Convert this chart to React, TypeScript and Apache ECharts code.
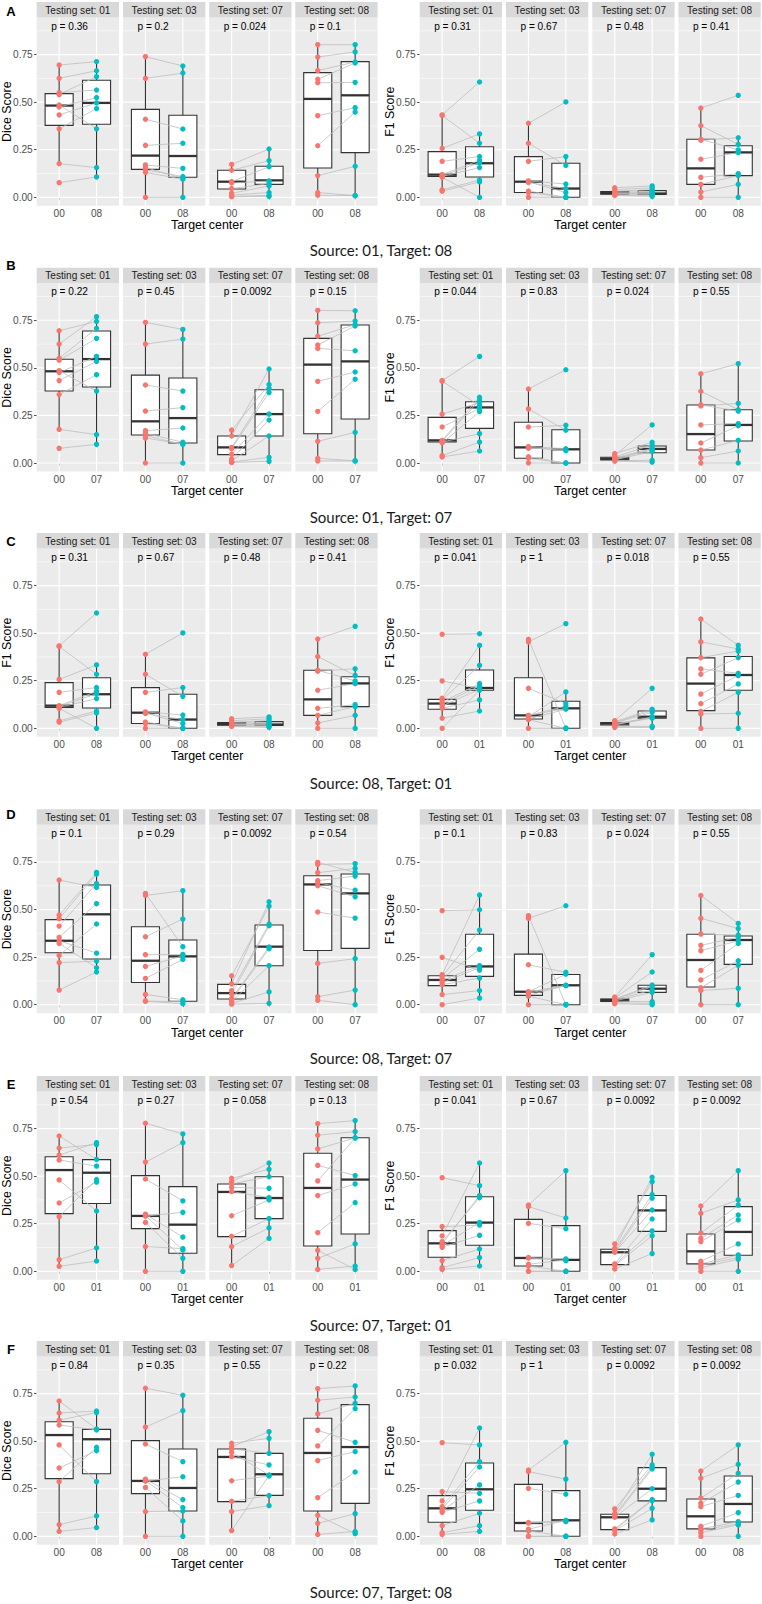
import React, { useEffect, useRef } from "react";
import * as echarts from "echarts";

// ---------------- data ----------------
const testingSets = ["01", "03", "07", "08"];
const yMajorTicks = [0, 0.25, 0.5, 0.75];
const yMinorTicks = [0.125, 0.375, 0.625, 0.875];
const Y_MIN = -0.045;
const Y_MAX = 0.945;

// Dice, source 01: baseline (00) per testing set, paired by index with targets
const diceSrc01Base = [
  [0.695, 0.625, 0.55, 0.54, 0.485, 0.475, 0.433, 0.36, 0.177, 0.077],
  [0.739, 0.625, 0.41, 0.273, 0.17, 0.156, 0.144, 0.131, 0.0],
  [0.173, 0.142, 0.082, 0.075, 0.046, 0.021, 0.012, 0.005, 0.003],
  [0.802, 0.737, 0.666, 0.62, 0.602, 0.429, 0.271, 0.114, 0.025, 0.011],
];
const diceSrc01BaseBox = [[0.378, 0.482, 0.545], [0.147, 0.219, 0.462], [0.044, 0.082, 0.142], [0.154, 0.517, 0.655]];
const diceSrc01To08 = [
  [0.713, 0.665, 0.564, 0.634, 0.36, 0.524, 0.496, 0.466, 0.156, 0.107],
  [0.69, 0.653, 0.359, 0.284, 0.152, 0.1, 0.109, 0.095, 0.0],
  [0.254, 0.193, 0.161, 0.086, 0.072, 0.06, 0.025, 0.01, 0.005],
  [0.802, 0.764, 0.711, 0.706, 0.604, 0.471, 0.448, 0.163, 0.009, 0.009],
];
const diceSrc01To08Box = [[0.384, 0.496, 0.615], [0.105, 0.217, 0.431], [0.068, 0.089, 0.163], [0.235, 0.536, 0.713]];
const diceSrc01To07 = [
  [0.744, 0.769, 0.708, 0.655, 0.378, 0.56, 0.534, 0.464, 0.149, 0.098],
  [0.702, 0.651, 0.378, 0.291, 0.184, 0.109, 0.098, 0.1, 0.0],
  [0.412, 0.494, 0.391, 0.37, 0.257, 0.226, 0.142, 0.03, 0.009],
  [0.8, 0.746, 0.727, 0.72, 0.59, 0.478, 0.44, 0.161, 0.011, 0.011],
];
const diceSrc01To07Box = [[0.399, 0.546, 0.694], [0.105, 0.236, 0.447], [0.142, 0.257, 0.385], [0.231, 0.534, 0.725]];

// F1, source 01
const f1Src01Base = [
  [0.433, 0.43, 0.257, 0.189, 0.119, 0.114, 0.11, 0.105, 0.039, 0.032],
  [0.389, 0.284, 0.189, 0.086, 0.081, 0.078, 0.033, 0.025, 0.0],
  [0.05, 0.04, 0.032, 0.027, 0.022, 0.02, 0.017, 0.012, 0.01],
  [0.469, 0.377, 0.305, 0.3, 0.2, 0.105, 0.068, 0.028, 0.0],
];
const f1Src01BaseBox = [[0.11, 0.119, 0.24], [0.025, 0.082, 0.214], [0.016, 0.022, 0.03], [0.068, 0.152, 0.305]];
const f1Src01To08 = [
  [0.606, 0.284, 0.333, 0.214, 0.194, 0.182, 0.156, 0.0, 0.091, 0.081],
  [0.501, 0.168, 0.214, 0.07, 0.025, 0.046, 0.0, 0.0, 0.0],
  [0.06, 0.05, 0.04, 0.03, 0.025, 0.02, 0.015, 0.01, 0.005],
  [0.536, 0.278, 0.249, 0.313, 0.235, 0.124, 0.114, 0.068, 0.0],
];
const f1Src01To08Box = [[0.107, 0.179, 0.266], [0.0, 0.046, 0.179], [0.015, 0.02, 0.035], [0.114, 0.236, 0.271]];
const f1Src01To07 = [
  [0.56, 0.301, 0.317, 0.287, 0.345, 0.331, 0.154, 0.27, 0.11, 0.063],
  [0.49, 0.172, 0.198, 0.075, 0.065, 0.072, 0.0, 0.0, 0.0],
  [0.109, 0.2, 0.095, 0.077, 0.068, 0.074, 0.06, 0.014, 0.005],
  [0.522, 0.28, 0.273, 0.313, 0.207, 0.196, 0.119, 0.063, 0.0],
];
const f1Src01To07Box = [[0.182, 0.292, 0.322], [0.0, 0.072, 0.175], [0.054, 0.074, 0.089], [0.116, 0.2, 0.28]];

// F1, source 08
const f1Src08Base = [
  [0.494, 0.249, 0.158, 0.149, 0.137, 0.128, 0.117, 0.105, 0.053, 0.0],
  [0.468, 0.454, 0.21, 0.068, 0.067, 0.06, 0.05, 0.045, 0.0],
  [0.04, 0.035, 0.03, 0.028, 0.025, 0.02, 0.018, 0.01, 0.005],
  [0.574, 0.454, 0.371, 0.312, 0.284, 0.18, 0.13, 0.089, 0.075, 0.0],
];
const f1Src08BaseBox = [[0.1, 0.13, 0.152], [0.049, 0.068, 0.266], [0.017, 0.025, 0.03], [0.093, 0.235, 0.37]];
const f1Src08To01 = [
  [0.497, 0.21, 0.436, 0.331, 0.235, 0.222, 0.205, 0.149, 0.091, 0.201],
  [0.0, 0.55, 0.13, 0.117, 0.105, 0.191, 0.1, 0.0, 0.0],
  [0.21, 0.1, 0.093, 0.084, 0.056, 0.053, 0.06, 0.01, 0.005],
  [0.436, 0.417, 0.406, 0.289, 0.371, 0.277, 0.233, 0.189, 0.079, 0.0],
];
const f1Src08To01Box = [[0.2, 0.212, 0.306], [0.0, 0.105, 0.142], [0.053, 0.061, 0.091], [0.2, 0.28, 0.377]];
const f1Src08To07 = [
  [0.499, 0.182, 0.576, 0.392, 0.291, 0.205, 0.194, 0.14, 0.074, 0.035],
  [0.0, 0.52, 0.17, 0.16, 0.102, 0.102, 0.1, 0.0, 0.0],
  [0.263, 0.172, 0.103, 0.095, 0.077, 0.065, 0.016, 0.007, 0.0],
  [0.427, 0.4, 0.366, 0.354, 0.336, 0.322, 0.231, 0.207, 0.086, 0.0],
];
const f1Src08To07Box = [[0.149, 0.201, 0.37], [0.0, 0.102, 0.159], [0.065, 0.084, 0.102], [0.212, 0.34, 0.361]];

// Dice, source 08
const diceSrc08Base = [
  [0.655, 0.471, 0.452, 0.413, 0.354, 0.336, 0.322, 0.259, 0.221, 0.077],
  [0.585, 0.574, 0.357, 0.263, 0.201, 0.138, 0.054, 0.019, 0.019],
  [0.152, 0.109, 0.074, 0.056, 0.033, 0.025, 0.016, 0.007, 0.003],
  [0.748, 0.737, 0.694, 0.652, 0.641, 0.625, 0.487, 0.217, 0.042, 0.023],
];
const diceSrc08BaseBox = [[0.273, 0.336, 0.447], [0.117, 0.231, 0.41], [0.03, 0.061, 0.107], [0.285, 0.632, 0.678]];
const diceSrc08To07 = [
  [0.616, 0.695, 0.686, 0.637, 0.531, 0.271, 0.194, 0.424, 0.229, 0.172],
  [0.305, 0.599, 0.45, 0.264, 0.257, 0.238, 0.026, 0.016, 0.005],
  [0.518, 0.541, 0.424, 0.415, 0.303, 0.294, 0.205, 0.067, 0.007],
  [0.695, 0.741, 0.716, 0.676, 0.602, 0.567, 0.455, 0.242, 0.077, 0.0],
];
const diceSrc08To07Box = [[0.24, 0.475, 0.629], [0.018, 0.254, 0.34], [0.205, 0.305, 0.419], [0.296, 0.585, 0.687]];

// Dice, source 07
const diceSrc07Base = [
  [0.711, 0.648, 0.611, 0.585, 0.48, 0.359, 0.287, 0.061, 0.026],
  [0.778, 0.574, 0.485, 0.3, 0.292, 0.29, 0.257, 0.13, 0.0],
  [0.489, 0.471, 0.459, 0.441, 0.419, 0.292, 0.184, 0.13, 0.03],
  [0.776, 0.715, 0.643, 0.557, 0.475, 0.398, 0.203, 0.11, 0.068, 0.01],
];
const diceSrc07BaseBox = [[0.303, 0.532, 0.602], [0.224, 0.291, 0.503], [0.182, 0.417, 0.459], [0.133, 0.438, 0.62]];
const diceSrc07To01 = [
  [0.588, 0.666, 0.676, 0.553, 0.317, 0.469, 0.482, 0.123, 0.054],
  [0.722, 0.676, 0.37, 0.18, 0.112, 0.31, 0.068, 0.119, 0.0],
  [0.536, 0.569, 0.497, 0.436, 0.387, 0.375, 0.277, 0.228, 0.173],
  [0.792, 0.734, 0.701, 0.503, 0.701, 0.459, 0.361, 0.01, 0.144, 0.028],
];
const diceSrc07To01Box = [[0.356, 0.518, 0.587], [0.095, 0.245, 0.445], [0.277, 0.385, 0.497], [0.196, 0.482, 0.702]];
const diceSrc07To08 = [
  [0.564, 0.658, 0.65, 0.559, 0.287, 0.45, 0.468, 0.107, 0.046],
  [0.741, 0.66, 0.392, 0.193, 0.151, 0.313, 0.081, 0.133, 0.0],
  [0.515, 0.55, 0.436, 0.322, 0.375, 0.317, 0.214, 0.161, 0.32],
  [0.79, 0.732, 0.699, 0.494, 0.671, 0.445, 0.338, 0.014, 0.119, 0.025],
];
const diceSrc07To08Box = [[0.329, 0.51, 0.562], [0.133, 0.254, 0.459], [0.215, 0.326, 0.436], [0.173, 0.469, 0.692]];

// F1, source 07
const f1Src07Base = [
  [0.492, 0.235, 0.186, 0.156, 0.145, 0.135, 0.126, 0.056, 0.019, 0.01],
  [0.348, 0.34, 0.252, 0.072, 0.07, 0.037, 0.028, 0.0, 0.0],
  [0.144, 0.121, 0.112, 0.103, 0.1, 0.039, 0.035, 0.03, 0.012],
  [0.343, 0.305, 0.201, 0.173, 0.156, 0.053, 0.039, 0.033, 0.019, 0.0],
];
const f1Src07BaseBox = [[0.074, 0.147, 0.214], [0.028, 0.07, 0.273], [0.035, 0.1, 0.116], [0.039, 0.105, 0.196]];
const f1Src07To01 = [
  [0.45, 0.243, 0.569, 0.387, 0.398, 0.257, 0.189, 0.117, 0.072, 0.028],
  [0.529, 0.28, 0.224, 0.065, 0.056, 0.06, 0.0, 0.0, 0.0],
  [0.471, 0.494, 0.403, 0.384, 0.322, 0.275, 0.212, 0.187, 0.093],
  [0.529, 0.375, 0.348, 0.296, 0.27, 0.144, 0.086, 0.072, 0.063, 0.0],
];
const f1Src07To01Box = [[0.137, 0.256, 0.392], [0.0, 0.06, 0.24], [0.21, 0.32, 0.398], [0.084, 0.207, 0.34]];
const f1Src07To08 = [
  [0.48, 0.226, 0.569, 0.392, 0.364, 0.27, 0.186, 0.121, 0.056, 0.026],
  [0.494, 0.3, 0.221, 0.082, 0.077, 0.084, 0.0, 0.0, 0.0],
  [0.375, 0.431, 0.363, 0.354, 0.25, 0.193, 0.187, 0.147, 0.086],
  [0.48, 0.378, 0.331, 0.285, 0.215, 0.124, 0.077, 0.065, 0.06, 0.0],
];
const f1Src07To08Box = [[0.137, 0.247, 0.385], [0.0, 0.084, 0.24], [0.186, 0.25, 0.361], [0.075, 0.17, 0.317]];

// p-values (per testing set)
const pDiceSrc01To08 = ["0.36", "0.2", "0.024", "0.1"];
const pF1Src01To08 = ["0.31", "0.67", "0.48", "0.41"];
const pDiceSrc01To07 = ["0.22", "0.45", "0.0092", "0.15"];
const pF1Src01To07 = ["0.044", "0.83", "0.024", "0.55"];
const pF1Src08To01 = ["0.041", "1", "0.018", "0.55"];
const pDiceSrc08To07 = ["0.1", "0.29", "0.0092", "0.54"];
const pF1Src08To07 = ["0.1", "0.83", "0.024", "0.55"];
const pDiceSrc07To01 = ["0.54", "0.27", "0.058", "0.13"];
const pF1Src07To01 = ["0.041", "0.67", "0.0092", "0.0092"];
const pDiceSrc07To08 = ["0.84", "0.35", "0.55", "0.22"];
const pF1Src07To08 = ["0.032", "1", "0.0092", "0.0092"];

const rows = [
  { letter: "A", title: "Source: 01, Target: 08", panels: [
    { yTitle: "Dice Score", tgtLabel: "08", base: diceSrc01Base, baseBox: diceSrc01BaseBox, tgt: diceSrc01To08, tgtBox: diceSrc01To08Box, p: pDiceSrc01To08 },
    { yTitle: "F1 Score", tgtLabel: "08", base: f1Src01Base, baseBox: f1Src01BaseBox, tgt: f1Src01To08, tgtBox: f1Src01To08Box, p: pF1Src01To08 },
  ] },
  { letter: "B", title: "Source: 01, Target: 07", panels: [
    { yTitle: "Dice Score", tgtLabel: "07", base: diceSrc01Base, baseBox: diceSrc01BaseBox, tgt: diceSrc01To07, tgtBox: diceSrc01To07Box, p: pDiceSrc01To07 },
    { yTitle: "F1 Score", tgtLabel: "07", base: f1Src01Base, baseBox: f1Src01BaseBox, tgt: f1Src01To07, tgtBox: f1Src01To07Box, p: pF1Src01To07 },
  ] },
  { letter: "C", title: "Source: 08, Target: 01", panels: [
    { yTitle: "F1 Score", tgtLabel: "08", base: f1Src01Base, baseBox: f1Src01BaseBox, tgt: f1Src01To08, tgtBox: f1Src01To08Box, p: pF1Src01To08 },
    { yTitle: "F1 Score", tgtLabel: "01", base: f1Src08Base, baseBox: f1Src08BaseBox, tgt: f1Src08To01, tgtBox: f1Src08To01Box, p: pF1Src08To01 },
  ] },
  { letter: "D", title: "Source: 08, Target: 07", panels: [
    { yTitle: "Dice Score", tgtLabel: "07", base: diceSrc08Base, baseBox: diceSrc08BaseBox, tgt: diceSrc08To07, tgtBox: diceSrc08To07Box, p: pDiceSrc08To07 },
    { yTitle: "F1 Score", tgtLabel: "07", base: f1Src08Base, baseBox: f1Src08BaseBox, tgt: f1Src08To07, tgtBox: f1Src08To07Box, p: pF1Src08To07 },
  ] },
  { letter: "E", title: "Source: 07, Target: 01", panels: [
    { yTitle: "Dice Score", tgtLabel: "01", base: diceSrc07Base, baseBox: diceSrc07BaseBox, tgt: diceSrc07To01, tgtBox: diceSrc07To01Box, p: pDiceSrc07To01 },
    { yTitle: "F1 Score", tgtLabel: "01", base: f1Src07Base, baseBox: f1Src07BaseBox, tgt: f1Src07To01, tgtBox: f1Src07To01Box, p: pF1Src07To01 },
  ] },
  { letter: "F", title: "Source: 07, Target: 08", panels: [
    { yTitle: "Dice Score", tgtLabel: "08", base: diceSrc07Base, baseBox: diceSrc07BaseBox, tgt: diceSrc07To08, tgtBox: diceSrc07To08Box, p: pDiceSrc07To08 },
    { yTitle: "F1 Score", tgtLabel: "08", base: f1Src07Base, baseBox: f1Src07BaseBox, tgt: f1Src07To08, tgtBox: f1Src07To08Box, p: pF1Src07To08 },
  ] },
];

// ---------------- layout ----------------
const FONT = "Liberation Sans, Arial, sans-serif";
const LEFT_FACET_X = [36.7, 123, 209.2, 295.3];
const RIGHT_FACET_X = [419.7, 506, 592.3, 678.4];
const FACET_W = 82.3;
const PX = 190.3;
const GRID_H = (Y_MAX - Y_MIN) * PX;
const ROW_ZERO = [197.3, 463, 728.3, 1004.7, 1271.3, 1536.3];
const LETTER_Y = [11, 265.7, 541.7, 814, 1084, 1349];
const SOURCE_Y = [250, 516.7, 783.3, 1057.7, 1325, 1591.7];
const STRIP_H = 15.5;
const BOX_COLOR = "#333333";
const RED = "#F8766D";
const TEAL = "#00BFC4";
const FS_TICK = 10.1;
const FS_STRIP = 10.1;
const FS_P = 10.1;
const FS_TITLE = 12.4;

function fullBox(values: number[], box: number[]) {
  const [q1, med, q3] = box;
  const iqr = q3 - q1;
  const inLo = values.filter((v) => v >= q1 - 1.5 * iqr);
  const inHi = values.filter((v) => v <= q3 + 1.5 * iqr);
  const lo = Math.min(q1, ...inLo);
  const hi = Math.max(q3, ...inHi);
  return [lo, q1, med, q3, hi];
}

function buildOption() {
  const option: any = {
    animation: false,
    textStyle: { fontFamily: FONT },
    grid: [],
    xAxis: [],
    yAxis: [],
    series: [],
    graphic: [],
  };
  const g = option.graphic;

  const gridLineData: number[][] = [];
  yMajorTicks.forEach((v) => gridLineData.push([0.4, v, 2.6, v, 1.15]));
  yMinorTicks.forEach((v) => gridLineData.push([0.4, v, 2.6, v, 0.55]));
  [1, 2].forEach((x) => gridLineData.push([x, Y_MIN, x, Y_MAX, 1.15]));

  rows.forEach((row, ri) => {
    const z = ROW_ZERO[ri];
    const top = z - Y_MAX * PX;
    g.push({ type: "text", x: 11, y: LETTER_Y[ri], silent: true, z: 50,
      style: { text: row.letter, fontSize: 13, fontWeight: "bold", fontFamily: FONT, fill: "#000", align: "center", verticalAlign: "middle" } });
    g.push({ type: "text", x: 381, y: SOURCE_Y[ri], silent: true, z: 50,
      style: { text: row.title, fontSize: 15, fontFamily: "Lato, sans-serif", fill: "#1a1a1a", align: "center", verticalAlign: "middle" } });

    row.panels.forEach((panel, pi) => {
      const lefts = pi === 0 ? LEFT_FACET_X : RIGHT_FACET_X;
      const panelLeft = lefts[0];
      const panelRight = lefts[3] + FACET_W;
      g.push({ type: "text", x: panelLeft - 30, y: top + GRID_H / 2, rotation: Math.PI / 2, silent: true, z: 50,
        style: { text: panel.yTitle, fontSize: FS_TITLE, fontFamily: FONT, fill: "#000", align: "center", verticalAlign: "middle" } });
      g.push({ type: "text", x: (panelLeft + panelRight) / 2, y: z + 28, silent: true, z: 50,
        style: { text: "Target center", fontSize: FS_TITLE, fontFamily: FONT, fill: "#000", align: "center", verticalAlign: "middle" } });

      testingSets.forEach((ts, fi) => {
        const gi = option.grid.length;
        const left = lefts[fi];
        option.grid.push({ left, top, width: FACET_W, height: GRID_H, show: true, backgroundColor: "#EBEBEB", borderWidth: 0, containLabel: false, outerBoundsMode: "none" });
        const tgtLabel = panel.tgtLabel;
        option.xAxis.push({
          gridIndex: gi, type: "value", min: 0.4, max: 2.6,
          axisLine: { show: false }, splitLine: { show: false },
          axisTick: { show: true, customValues: [1, 2], length: 2.6, lineStyle: { color: "#333333", width: 0.9 } },
          axisLabel: { show: true, customValues: [1, 2], margin: 2.6, fontSize: FS_TICK, color: "#4D4D4D", fontFamily: FONT,
            formatter: (v: number) => (Math.round(v) === 1 ? "00" : tgtLabel) },
        });
        option.yAxis.push({
          gridIndex: gi, type: "value", min: Y_MIN, max: Y_MAX,
          axisLine: { show: false }, splitLine: { show: false },
          axisTick: { show: fi === 0, customValues: yMajorTicks, length: 2.6, lineStyle: { color: "#333333", width: 0.9 } },
          axisLabel: { show: fi === 0, customValues: yMajorTicks, margin: 4, fontSize: FS_TICK, color: "#4D4D4D", fontFamily: FONT,
            formatter: (v: number) => v.toFixed(2) },
        });

        // strip
        g.push({ type: "rect", silent: true, z: 40, shape: { x: left, y: top - STRIP_H, width: FACET_W, height: STRIP_H }, style: { fill: "#D9D9D9" } });
        g.push({ type: "text", silent: true, z: 50, x: left + FACET_W / 2, y: top - STRIP_H / 2 + 0.5,
          style: { text: `Testing set: ${ts}`, fontSize: FS_STRIP, fontFamily: FONT, fill: "#1A1A1A", align: "center", verticalAlign: "middle" } });
        // p label
        g.push({ type: "text", silent: true, z: 50, x: left + 14.5, y: z - 0.9 * PX,
          style: { text: `p = ${panel.p[fi]}`, fontSize: FS_P, fontFamily: FONT, fill: "#000", align: "left", verticalAlign: "middle" } });

        const base: number[] = panel.base[fi];
        const tgt: number[] = panel.tgt[fi];

        // background grid lines
        option.series.push({
          type: "custom", xAxisIndex: gi, yAxisIndex: gi, silent: true, z: 1, clip: false,
          data: gridLineData,
          renderItem: (_p: any, api: any) => {
            const a = api.coord([api.value(0), api.value(1)]);
            const b = api.coord([api.value(2), api.value(3)]);
            return { type: "line", shape: { x1: a[0], y1: a[1], x2: b[0], y2: b[1] }, style: { stroke: "#FFFFFF", lineWidth: api.value(4) } };
          },
        });
        // boxes
        option.series.push({
          type: "custom", xAxisIndex: gi, yAxisIndex: gi, silent: true, z: 2, clip: false,
          data: [[1, ...fullBox(base, panel.baseBox[fi])], [2, ...fullBox(tgt, panel.tgtBox[fi])]],
          renderItem: (_p: any, api: any) => {
            const x = api.value(0);
            const halfW = api.size([0.75, 0])[0] / 2;
            const pLo = api.coord([x, api.value(1)]);
            const pQ1 = api.coord([x, api.value(2)]);
            const pMed = api.coord([x, api.value(3)]);
            const pQ3 = api.coord([x, api.value(4)]);
            const pHi = api.coord([x, api.value(5)]);
            const cx = pQ1[0];
            const st = { stroke: BOX_COLOR, lineWidth: 1.1, fill: null };
            return {
              type: "group",
              children: [
                { type: "line", shape: { x1: cx, y1: pLo[1], x2: cx, y2: pQ1[1] }, style: st },
                { type: "line", shape: { x1: cx, y1: pQ3[1], x2: cx, y2: pHi[1] }, style: st },
                { type: "rect", shape: { x: cx - halfW, y: pQ3[1], width: 2 * halfW, height: pQ1[1] - pQ3[1] }, style: { fill: "#FFFFFF", stroke: BOX_COLOR, lineWidth: 1.1 } },
                { type: "line", shape: { x1: cx - halfW, y1: pMed[1], x2: cx + halfW, y2: pMed[1] }, style: { stroke: BOX_COLOR, lineWidth: 2.3 } },
              ],
            };
          },
        });
        // paired lines
        option.series.push({
          type: "custom", xAxisIndex: gi, yAxisIndex: gi, silent: true, z: 3, clip: false,
          data: base.map((b, i) => [1, b, 2, tgt[i]]),
          renderItem: (_p: any, api: any) => {
            const a = api.coord([api.value(0), api.value(1)]);
            const b = api.coord([api.value(2), api.value(3)]);
            return { type: "line", shape: { x1: a[0], y1: a[1], x2: b[0], y2: b[1] }, style: { stroke: "#BEBEBE", lineWidth: 0.8 } };
          },
        });
        // points
        option.series.push({
          type: "scatter", xAxisIndex: gi, yAxisIndex: gi, silent: true, z: 4,
          symbolSize: 5.4, itemStyle: { color: RED, opacity: 1 },
          data: base.map((v) => [1, v]),
        });
        option.series.push({
          type: "scatter", xAxisIndex: gi, yAxisIndex: gi, silent: true, z: 4,
          symbolSize: 5.4, itemStyle: { color: TEAL, opacity: 1 },
          data: tgt.map((v) => [2, v]),
        });
      });
    });
  });
  return option;
}

export default function App() {
  const ref = useRef<HTMLDivElement>(null);
  useEffect(() => {
    if (!ref.current) return;
    const chart = echarts.init(ref.current, null, { renderer: "svg" });
    chart.setOption(buildOption());
    return () => chart.dispose();
  }, []);
  return (
    <div
      ref={ref}
      style={{ position: "absolute", left: 0, top: 0, width: 762, height: 1604, background: "#FFFFFF" }}
    />
  );
}
